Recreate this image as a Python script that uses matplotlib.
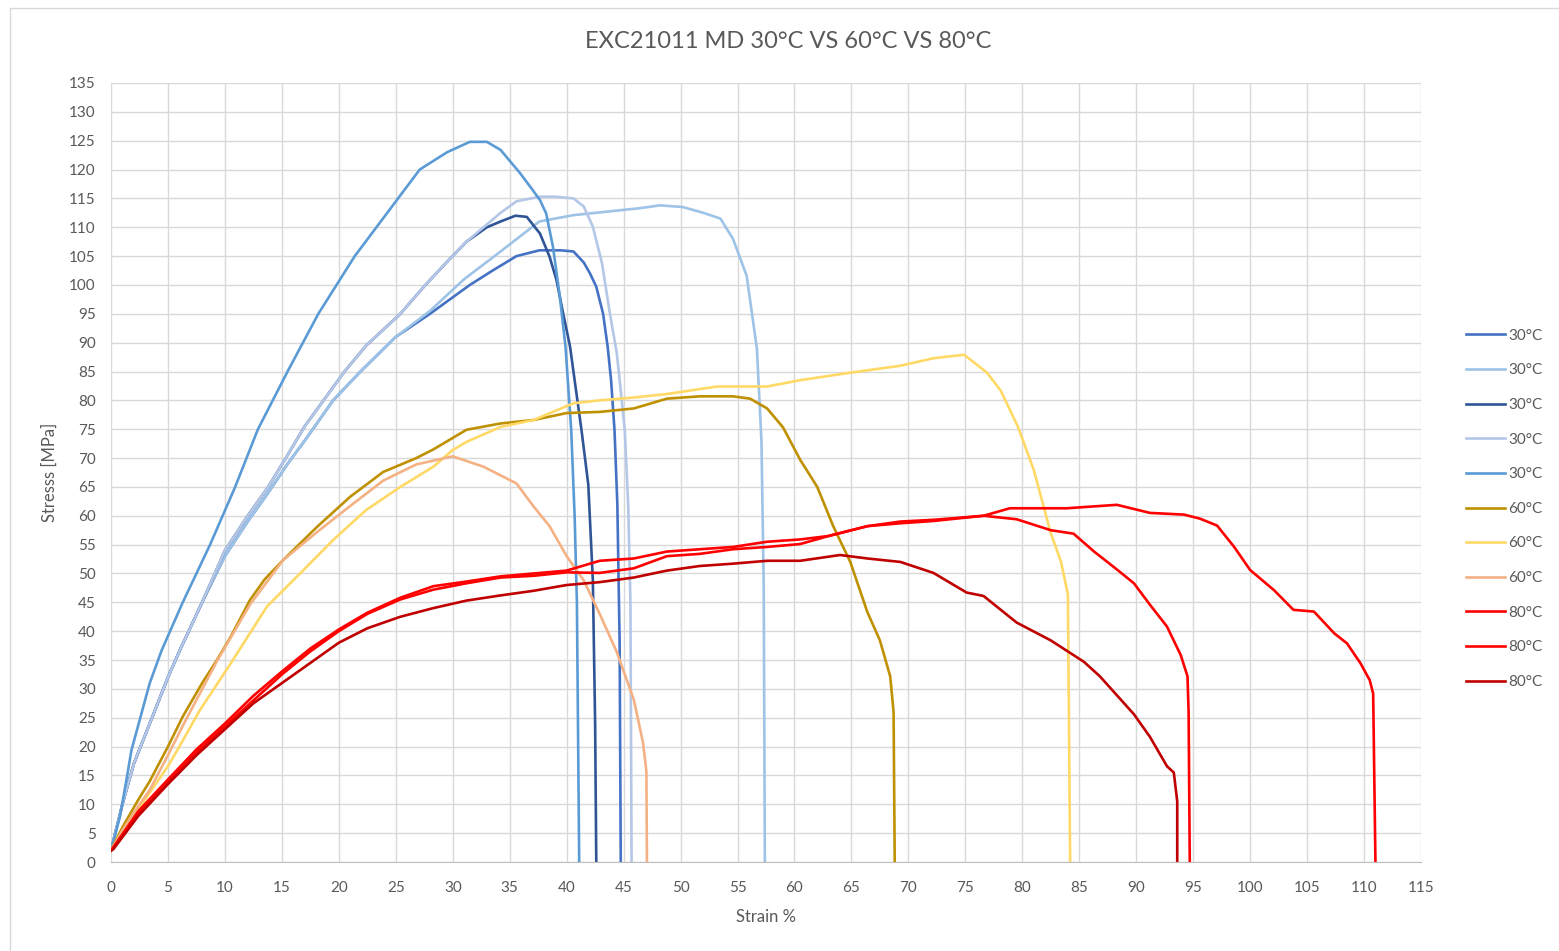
import matplotlib.pyplot as plt
from matplotlib.patches import Rectangle

plt.rcParams['font.family'] = ['Lato', 'DejaVu Sans']

# 30°C samples
s1_x = [0, 1, 2, 3, 4, 5, 6, 8, 10, 12, 13.8, 15.5, 17, 19.5, 21.9, 25, 28, 31.5, 33.5, 35.6, 37.6, 39.5, 40.6, 41.5, 42.05, 42.6, 43.2, 43.6, 43.9, 44.2, 44.45, 44.65, 44.75]
s1_y = [2, 10, 17, 22, 27, 32, 36.5, 45, 53, 59, 64, 69, 73, 80, 85, 91, 95, 100, 102.5, 105, 106, 106, 105.8, 103.9, 102, 99.7, 95, 89.3, 83.5, 74.9, 62, 38, 0]

s2_x = [0, 1, 2, 3, 4, 5, 6, 8, 10, 12, 13.8, 15.5, 17, 19.5, 21.9, 25, 28, 31, 34, 37.6, 40.6, 43.5, 46.4, 48.2, 50.2, 52, 53.5, 54.6, 55.8, 56.7, 57.1, 57.3, 57.4]
s2_y = [2, 10, 17, 22, 27, 32, 36.5, 45, 53, 59, 64, 69, 73, 80, 85, 91, 95.5, 101, 105.5, 111, 112.1, 112.7, 113.3, 113.8, 113.5, 112.5, 111.5, 108, 101.6, 89, 73, 48, 0]

s3_x = [0, 1, 2, 3, 4, 5, 6, 8, 10, 12, 13.8, 15.5, 17, 20.5, 22.4, 25.4, 27.6, 29.5, 31.2, 33, 34.2, 35.5, 36.5, 37.66, 38.5, 39.1, 39.7, 40.3, 40.7, 41.3, 41.9, 42.3, 42.5, 42.6]
s3_y = [2, 10, 17, 22, 27, 32, 36.5, 45, 54, 60, 65, 70.5, 75.5, 85, 89.5, 95, 100, 104, 107.5, 110, 111, 112, 111.8, 108.9, 104.9, 100.9, 95, 89.3, 83.5, 74.9, 65.4, 48.8, 24, 0]

s4_x = [0, 1, 2, 3, 4, 5, 6, 8, 10, 12, 13.8, 15.5, 17, 20.5, 22.4, 25.4, 27.6, 29.5, 31.2, 33, 34.2, 35.6, 37.66, 39, 40.6, 41.5, 42.3, 43.1, 43.8, 44.4, 44.8, 45.1, 45.4, 45.6, 45.7]
s4_y = [2, 10, 17, 22, 27, 32, 36.5, 45, 54, 60, 65, 70.5, 75.5, 85, 89.5, 95, 100, 104, 107.5, 110.5, 112.5, 114.5, 115.3, 115.3, 115, 113.6, 110.1, 103.8, 95, 88.2, 80.7, 74.9, 62, 45, 0]

s5_x = [0, 0.8, 1.3, 1.8, 3.4, 4.45, 6.3, 8.7, 10.9, 12.9, 15.5, 18.2, 21.4, 25.2, 27.1, 29.5, 31.5, 33, 34.2, 35.9, 37, 37.66, 38.2, 38.8, 39.4, 39.9, 40.4, 40.7, 40.9, 41.1]
s5_y = [2, 8, 13.6, 19.4, 31, 36.7, 45, 55, 65, 75, 85, 95, 105, 115, 120, 123, 124.8, 124.8, 123.4, 119.4, 116.5, 114.7, 112.4, 106.6, 98, 89.3, 74.9, 60, 45, 0]

# 60°C samples
s6_x = [0, 1, 2.4, 3.4, 5, 6.3, 8, 9.3, 10.5, 12.2, 13.5, 15.1, 18.1, 21, 23.9, 26.8, 28.3, 31.2, 34.2, 37.1, 40, 42.9, 45.9, 48.8, 51.7, 54.6, 56.1, 57.6, 59, 60.5, 62, 63.4, 64.9, 66.4, 67.5, 68.4, 68.7, 68.8]
s6_y = [2, 6, 10.8, 14, 20, 25.2, 31, 35, 39, 45.4, 49, 52.3, 58.1, 63.3, 67.6, 70, 71.5, 74.9, 76, 76.6, 77.8, 78, 78.6, 80.3, 80.7, 80.7, 80.3, 78.6, 75.3, 69.7, 65, 58.2, 52, 43.3, 38.4, 32.2, 26, 0]

s7_x = [0, 1, 2, 5, 6, 7.8, 10.7, 13.7, 16.6, 19.5, 22.4, 25.4, 28.3, 30, 31.2, 34.2, 37.1, 40.6, 42.9, 45.9, 48.8, 53.2, 57.6, 60.5, 64.9, 69.3, 72.2, 74.9, 76.9, 78.1, 79.6, 81, 82.5, 83.4, 84, 84.2]
s7_y = [2, 5, 8, 16.6, 20, 26.3, 35, 44.3, 50, 55.8, 61, 65, 68.5, 71.4, 72.8, 75.4, 76.6, 79.5, 80, 80.5, 81.1, 82.4, 82.4, 83.5, 84.8, 86, 87.3, 87.9, 84.8, 81.7, 75.5, 68, 57, 52, 46.4, 0]

s8_x = [0, 1, 2, 3.4, 5, 6.3, 9.3, 12.2, 15.1, 18.1, 21, 23.9, 26.8, 30, 32.7, 35.6, 37.1, 38.5, 40, 41.5, 42.9, 44.4, 45.9, 46.7, 47, 47.05]
s8_y = [2, 5.5, 8.5, 12.5, 18.5, 23.6, 34.8, 44.6, 52.3, 57.2, 61.7, 66.1, 68.9, 70.3, 68.5, 65.6, 61.6, 58.2, 53, 48.8, 43, 36.4, 28.1, 20.7, 15.7, 0]

# 80°C samples
s9_x = [0, 0.2, 2.4, 5, 7.5, 10, 12.5, 15, 17.5, 20, 22.5, 25.4, 28.3, 31.2, 34.2, 37.1, 40, 42.9, 45.9, 48.8, 51.7, 54.6, 57.6, 60.5, 63, 66.4, 69.3, 72.2, 76.6, 79.5, 82.5, 84.5, 86.3, 88.3, 89.8, 91.2, 92.7, 93.9, 94.5, 94.6, 94.7]
s9_y = [2, 2.5, 8.5, 14, 19, 23.5, 28, 32.5, 36.5, 40, 43, 45.5, 47.2, 48.3, 49.3, 49.6, 50.2, 50.1, 50.9, 53, 53.4, 54.2, 54.6, 55.1, 56.5, 58.2, 58.7, 59.1, 60, 59.4, 57.5, 56.9, 53.8, 50.7, 48.3, 44.6, 40.8, 35.9, 32.2, 26, 0]

s10_x = [0, 0.2, 2.4, 5, 7.5, 10, 12.5, 15, 17.5, 20, 22.5, 25.4, 28.3, 31.2, 34.2, 37.1, 40, 42.9, 45.9, 48.8, 51.7, 54.6, 57.6, 60.5, 63, 66.4, 69.3, 72.2, 76.6, 78.9, 83.9, 88.3, 91.2, 94.2, 95.6, 97.1, 98.6, 100, 102.1, 103.8, 105.6, 107.4, 108.5, 109.7, 110.5, 110.8, 111]
s10_y = [2, 2.5, 8.8, 14.3, 19.5, 24, 28.8, 33, 37, 40.3, 43.2, 45.8, 47.8, 48.6, 49.5, 50, 50.5, 52.2, 52.6, 53.8, 54.2, 54.6, 55.5, 55.9, 56.5, 58.2, 59, 59.3, 60, 61.3, 61.3, 61.9, 60.5, 60.2, 59.5, 58.3, 54.6, 50.6, 47.1, 43.7, 43.4, 39.6, 37.9, 34.4, 31.5, 29.2, 0]

s11_x = [0, 0.2, 2.4, 5, 7.5, 10, 12.5, 15, 17.5, 20, 22.5, 25.4, 28.3, 31.2, 34.2, 37.1, 40, 42.9, 45.9, 48.8, 51.7, 54.6, 57.6, 60.5, 64, 66.4, 69.3, 72.2, 75.1, 76.6, 79.5, 82.5, 85.4, 86.8, 89.8, 91.2, 92.7, 93.3, 93.6, 93.6]
s11_y = [2, 2.2, 8, 13.5, 18.5, 23, 27.5, 31, 34.5, 38, 40.5, 42.5, 44, 45.3, 46.2, 47, 48, 48.5, 49.3, 50.5, 51.3, 51.7, 52.2, 52.2, 53.2, 52.6, 52, 50.1, 46.7, 46.1, 41.5, 38.4, 34.7, 32.2, 25.6, 21.7, 16.6, 15.5, 10.5, 0]

series = [
    (s1_x, s1_y, '#4472C4', '30°C'),
    (s2_x, s2_y, '#9DC3E6', '30°C'),
    (s3_x, s3_y, '#2F5597', '30°C'),
    (s4_x, s4_y, '#B4C7E7', '30°C'),
    (s5_x, s5_y, '#5B9BD5', '30°C'),
    (s6_x, s6_y, '#BF9000', '60°C'),
    (s7_x, s7_y, '#FFD966', '60°C'),
    (s8_x, s8_y, '#F4B183', '60°C'),
    (s9_x, s9_y, '#FF0000', '80°C'),
    (s10_x, s10_y, '#FF0000', '80°C'),
    (s11_x, s11_y, '#C00000', '80°C'),
]

fig = plt.figure(figsize=(15.59, 9.51), dpi=100)
ax = fig.add_axes([111/1559, 1 - 862/951, (1421-111)/1559, (862-83)/951])

# chart area border
fig.patches.append(Rectangle((10/1559, -0.01), 1.0, 1 - 8/951 + 0.01, transform=fig.transFigure,
                             fill=False, edgecolor='#D9D9D9', linewidth=1))

for x, y, c, lab in series:
    ax.plot(x, y, color=c, lw=1.9, label=lab, solid_joinstyle='round')

ax.set_xlim(0, 115)
ax.set_ylim(0, 135)
ax.set_xticks(range(0, 116, 5))
ax.set_yticks(range(0, 136, 5))
ax.grid(True, color='#D9D9D9', lw=1)
ax.set_axisbelow(True)
for sp in ['top', 'right', 'left']:
    ax.spines[sp].set_visible(False)
ax.spines['bottom'].set_color('#BFBFBF')
ax.tick_params(length=0, labelsize=11, labelcolor='#595959')
ax.tick_params(axis='x', pad=13.5)
ax.tick_params(axis='y', pad=11)

ax.set_xlabel('Strain %', fontsize=12, color='#595959', labelpad=10)
ax.set_ylabel('Stresss [MPa]', fontsize=12, color='#595959', labelpad=8)
fig.text(788/1559, 1 - 41/951, 'EXC21011 MD 30°C VS 60°C VS 80°C', ha='center', va='center',
         fontsize=17, color='#595959')

fig.legend(loc='upper left', bbox_to_anchor=(1452/1559, 1 - 315/951), frameon=False,
           fontsize=11, labelcolor='#595959', handlelength=2.6, handletextpad=0.2,
           labelspacing=1.35)

plt.savefig('out.png', dpi=100)
